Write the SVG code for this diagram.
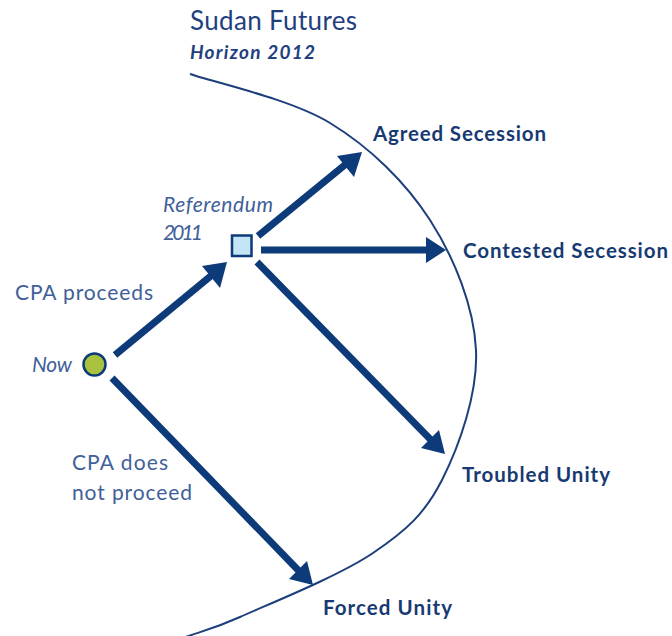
<svg xmlns="http://www.w3.org/2000/svg" width="672" height="636" viewBox="0 0 672 636">
<style>
  .arc{fill:none;stroke:#1c3f7c;stroke-width:2}
  .conn{stroke:#0d3a78;stroke-width:7;fill:none}
  .head{fill:#0d3a78}
  .title{font-family:Lato,"Open Sans",sans-serif;fill:#1f3f7f}
  .out{font-family:Lato,"Open Sans",sans-serif;font-weight:bold;font-size:20.5px;fill:#173a72}
  .lbl{font-family:Lato,"Open Sans",sans-serif;font-size:21px;fill:#41609a}
  .it{font-style:italic}
</style>
<rect width="672" height="636" fill="#ffffff"/>
<g id="title">
  <text class="title" x="190" y="30" font-size="26" textLength="167">Sudan Futures</text>
  <text class="title it" x="190" y="59" font-size="19" font-weight="bold" textLength="125">Horizon 2012</text>
</g>
<g id="horizon">
  <path class="arc" d="M190,74 C213.3,82.2 290,98.7 330,123 C370,147.3 405.7,182.2 430,220 C454.3,257.8 474,306.7 476,350 C478,393.3 459.2,446.2 442,480 C424.8,513.8 406.7,530.2 373,553 C339.3,575.8 270.5,603.3 240,617 C209.5,630.7 198.3,632 180,639"/>
</g>
<g id="connectors">
  <line class="conn" x1="115" y1="355" x2="212" y2="275"/>
  <polygon class="head" points="227,262 220,288 202,266"/>
  <line class="conn" x1="258" y1="236" x2="346" y2="164"/>
  <polygon class="head" points="362,152 354,177 337,156"/>
  <line class="conn" x1="261" y1="250" x2="428" y2="250"/>
  <polygon class="head" points="446,250 426,237 426,263"/>
  <line class="conn" x1="257" y1="262" x2="431" y2="440"/>
  <polygon class="head" points="445,454 421,448 439,430"/>
  <line class="conn" x1="112" y1="378" x2="299" y2="571"/>
  <polygon class="head" points="313,585 289,579 307,561"/>
</g>
<g id="now">
  <circle cx="94.5" cy="364.5" r="11" fill="#a9c23f" stroke="#0d3a78" stroke-width="2.5"/>
  <text class="lbl it" x="32" y="372" textLength="40">Now</text>
</g>
<g id="referendum">
  <rect x="232" y="235.5" width="19.5" height="20.5" fill="#c2e4f5" stroke="#0d3a78" stroke-width="2.5"/>
  <text class="lbl it" x="163" y="212" fill="#5a6e9e" textLength="110">Referendum</text>
  <text class="lbl it" x="163" y="240" fill="#5a6e9e" textLength="40">2011</text>
</g>
<g id="labels">
  <text class="lbl" x="15" y="300" textLength="138">CPA proceeds</text>
  <text class="lbl" x="72" y="470" textLength="96">CPA does</text>
  <text class="lbl" x="72" y="500" textLength="120">not proceed</text>
</g>
<g id="agreed"><text class="out" x="373" y="141" textLength="173">Agreed Secession</text></g>
<g id="contested"><text class="out" x="463" y="258" textLength="205">Contested Secession</text></g>
<g id="troubled"><text class="out" x="462" y="482" textLength="148">Troubled Unity</text></g>
<g id="forced"><text class="out" x="323" y="615" textLength="129">Forced Unity</text></g>
</svg>
